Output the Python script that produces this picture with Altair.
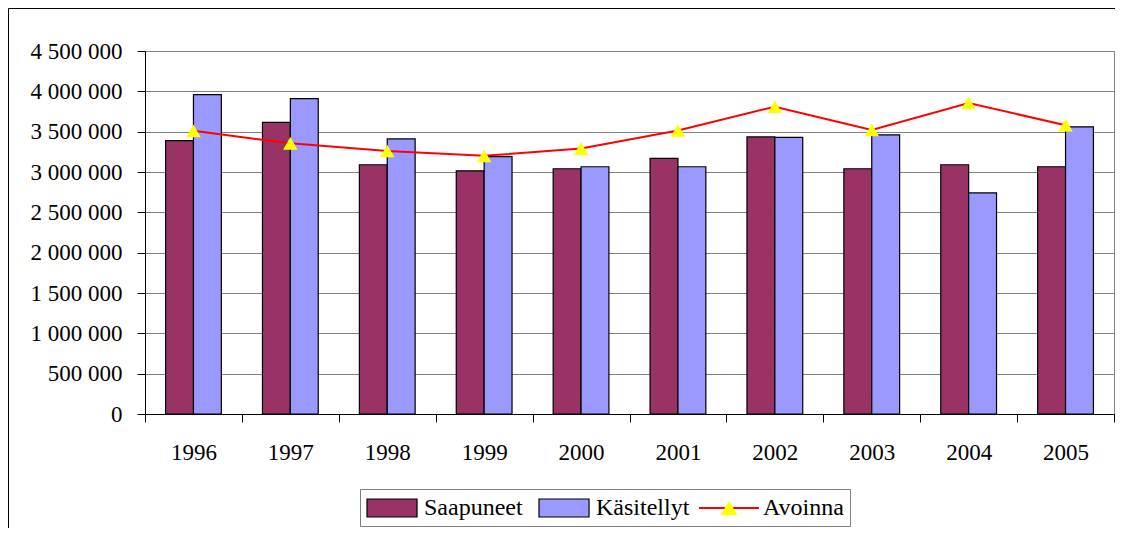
import altair as alt
import pandas as pd

FONT = "Liberation Serif"

years = ["1996", "1997", "1998", "1999", "2000", "2001", "2002", "2003", "2004", "2005"]
saapuneet = [3390000, 3615000, 3090000, 3015000, 3040000, 3170000, 3435000, 3040000, 3090000, 3065000]
kasitellyt = [3960000, 3910000, 3410000, 3190000, 3065000, 3065000, 3430000, 3460000, 2740000, 3560000]
avoinna = [3510000, 3355000, 3260000, 3200000, 3290000, 3515000, 3810000, 3520000, 3855000, 3580000]

bar_series = ["Saapuneet", "Käsitellyt"]
legend_series = ["Saapuneet", "Käsitellyt", "Avoinna"]
fill_colors = ["#993366", "#9999FF", "transparent"]
stroke_colors = ["#000000", "#000000", "transparent"]
line_color = "#FF0000"
marker_color = "#FFFF00"
y_ticks = [0, 500000, 1000000, 1500000, 2000000, 2500000, 3000000, 3500000, 4000000, 4500000]

bars_df = pd.DataFrame({
    "year": years * 2,
    "series": [bar_series[0]] * len(years) + [bar_series[1]] * len(years),
    "value": saapuneet + kasitellyt,
})
line_df = pd.DataFrame({
    "year": years,
    "value": avoinna,
    "lseries": ["Avoinna"] * len(years),
    "pseries": ["Avoinna"] * len(years),
})

x_enc = alt.X(
    "year:N", sort=years,
    scale=alt.Scale(paddingInner=0, paddingOuter=0),
    axis=alt.Axis(title=None, labelAngle=0, tickBand="extent", grid=False,
                  domainColor="#000000", tickColor="#000000", tickSize=8,
                  labelFont=FONT, labelFontSize=23, labelColor="#000000", labelPadding=19),
)
y_enc = alt.Y(
    "value:Q",
    scale=alt.Scale(domain=[0, 4500000], nice=False, zero=True),
    axis=alt.Axis(title=None, values=y_ticks,
                  labelExpr="replace(format(datum.value, ','), /,/g, ' ')",
                  grid=True, gridColor="#808080", gridWidth=1,
                  domainColor="#000000", tickColor="#000000", tickSize=8,
                  labelFont=FONT, labelFontSize=23, labelColor="#000000", labelPadding=15),
)

LX = 215
LY = 438
leg_main = alt.Legend(
    orient="none", legendX=LX, legendY=LY, direction="horizontal", title=None,
    symbolType="M-1,-0.75H3.17V0.75H-1Z", symbolSize=576, symbolStrokeWidth=1.2,
    labelFont=FONT, labelFontSize=24, labelColor="#000000", labelOffset=32,
    columnPadding=13, padding=6, strokeColor="#808080", fillColor="#FFFFFF",
    labelLimit=400, zindex=1,
)
leg_line = alt.Legend(
    orient="none", legendX=LX + 341, legendY=LY + 6, direction="horizontal", title=None,
    symbolType="M-1.25,0H3.75", symbolSize=576, symbolStrokeWidth=2,
    labelExpr="''", padding=0, zindex=2,
)
leg_marker = alt.Legend(
    orient="none", legendX=LX + 360, legendY=LY + 10, direction="horizontal", title=None,
    symbolType="triangle-up", symbolSize=290, symbolStrokeWidth=0,
    symbolFillColor=marker_color,
    labelExpr="''", padding=0, zindex=3,
)

frame_df = pd.DataFrame({"f": [0]})
frame_top = alt.Chart(frame_df).mark_rule(stroke="#000000", strokeWidth=1).encode(
    x=alt.value(-136.5), x2=alt.value(975), y=alt.value(-42.5)
)
frame_left = alt.Chart(frame_df).mark_rule(stroke="#000000", strokeWidth=1).encode(
    x=alt.value(-136.5), y=alt.value(-42.5), y2=alt.value(480)
)

bars = alt.Chart(bars_df).mark_bar(strokeWidth=1.2).encode(
    x=x_enc,
    xOffset=alt.XOffset("series:N", sort=bar_series,
                        scale=alt.Scale(domain=bar_series, paddingInner=0, paddingOuter=0.7375)),
    y=y_enc,
    fill=alt.Fill("series:N", scale=alt.Scale(domain=legend_series, range=fill_colors), legend=leg_main),
    stroke=alt.Stroke("series:N", scale=alt.Scale(domain=legend_series, range=stroke_colors), legend=leg_main),
)

line = alt.Chart(line_df).mark_line(strokeWidth=2).encode(
    x=x_enc,
    y=y_enc,
    color=alt.Color("lseries:N", scale=alt.Scale(domain=["Avoinna"], range=[line_color]), legend=leg_line),
)

points = alt.Chart(line_df).mark_point(filled=True, color=marker_color, size=210, opacity=1, strokeWidth=0).encode(
    x=x_enc,
    y=y_enc,
    shape=alt.Shape("pseries:N", scale=alt.Scale(range=["triangle-up"]), legend=leg_marker),
)

chart = alt.layer(frame_top, frame_left, bars, line, points).properties(
    width=969, height=363,
    autosize=alt.AutoSizeParams(type="none"),
    padding={"left": 137, "top": 43, "right": 1, "bottom": 114},
).configure(font=FONT).configure_legend(labelFont=FONT).configure_view(stroke="#808080", strokeWidth=1)

chart.save("out.html", embed_options={"renderer": "svg", "actions": False})
